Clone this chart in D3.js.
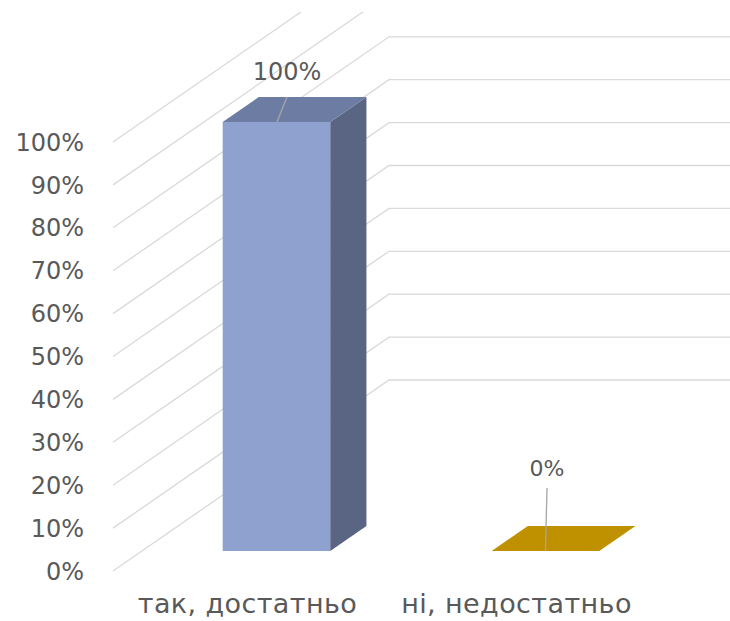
<!DOCTYPE html>
<html>
<head>
<meta charset="utf-8">
<script src="https://cdn.jsdelivr.net/npm/d3@7"></script>
<style>
  body { margin: 0; background: #fff; }
  text { font-family: "DejaVu Sans", sans-serif; fill: #595959; }
</style>
</head>
<body>
<script>
// chart data
var categories = ["так, достатньо", "ні, недостатньо"];
var values = [1.0, 0.0];
var tickValues = [0, 0.1, 0.2, 0.3, 0.4, 0.5, 0.6, 0.7, 0.8, 0.9, 1.0];
var labels = ["100%", "0%"];

var w = 730, h = 621;

// 3d projection: depth offset of the back wall
var DX = 276, DY = 191;
var z0 = 0.105, z1 = 0.236;   // bar depth range (0 = front, 1 = back)

var svg = d3.select("body").append("svg")
    .attr("width", w)
    .attr("height", h);

var y = d3.scaleLinear().domain([0, 1]).range([571, 142]);
var x = d3.scalePoint().domain(categories).range([113, 651]).padding(0.5);
var barW = x.step() * 0.4;

function P(px, v, z) {
    return [px + z * DX, y(v) - z * DY];
}

svg.append("clipPath").attr("id", "plot")
    .append("rect").attr("x", 0).attr("y", 12).attr("width", w).attr("height", h);

// gridlines: side wall diagonal then back wall horizontal
var line = d3.line();
svg.append("g").attr("clip-path", "url(#plot)")
    .selectAll("path")
    .data(tickValues)
    .enter()
    .append("path")
    .attr("d", function (d) {
        return line([P(113, d, 0), P(113, d, 1), [w, y(d) - DY]]);
    })
    .attr("fill", "none")
    .attr("stroke", "#d9d9d9")
    .attr("stroke-width", 1.3);

// y axis labels
svg.append("g").selectAll("text")
    .data(tickValues)
    .enter()
    .append("text")
    .attr("x", 84)
    .attr("y", function (d) { return y(d); })
    .attr("dy", "0.36em")
    .attr("text-anchor", "end")
    .style("font-size", "24px")
    .text(function (d) { return Math.round(d * 100) + "%"; });

var colors = [
    { front: "#8fa1cf", top: "#6d7ca3", side: "#5a6584" },
    { front: "#bf9000", top: "#bf9000", side: "#8f6c00" }
];

var bars = svg.append("g").selectAll("g")
    .data(categories)
    .enter()
    .append("g");

bars.each(function (c, i) {
    var g = d3.select(this);
    var v = values[i];
    var l = x(c) - barW / 2, r = x(c) + barW / 2;
    var col = colors[i];
    if (v > 0) {
        g.append("path")
            .attr("d", line([P(l, 0, z0), P(r, 0, z0), P(r, v, z0), P(l, v, z0)]) + "Z")
            .attr("fill", col.front);
        g.append("path")
            .attr("d", line([P(r, 0, z0), P(r, 0, z1), P(r, v, z1), P(r, v, z0)]) + "Z")
            .attr("fill", col.side);
    }
    g.append("path")
        .attr("d", line([P(l, v, z0), P(r, v, z0), P(r, v, z1), P(l, v, z1)]) + "Z")
        .attr("fill", col.top);
});

// data labels with leader lines
var labelPos = [[287, 80, 277, 97], [547, 476, 546, 488]];
bars.each(function (c, i) {
    var g = d3.select(this);
    var v = values[i];
    var lp = labelPos[i];
    var end = P(x(c), v, z0);
    g.append("line")
        .attr("x1", lp[0]).attr("y1", lp[3])
        .attr("x2", i == 0 ? lp[2] : end[0]).attr("y2", end[1])
        .attr("stroke", "#a6a6a6")
        .attr("stroke-width", 1.3);
    g.append("text")
        .attr("x", lp[0])
        .attr("y", lp[1])
        .attr("text-anchor", "middle")
        .style("font-size", i == 0 ? "24px" : "22px")
        .text(labels[i]);
});

// category labels
svg.append("g").selectAll("text")
    .data(categories)
    .enter()
    .append("text")
    .attr("x", function (d) { return x(d); })
    .attr("y", 613)
    .attr("text-anchor", "middle")
    .style("font-size", "27px")
    .style("letter-spacing", "0.4px")
    .text(function (d) { return d; });
</script>
</body>
</html>
